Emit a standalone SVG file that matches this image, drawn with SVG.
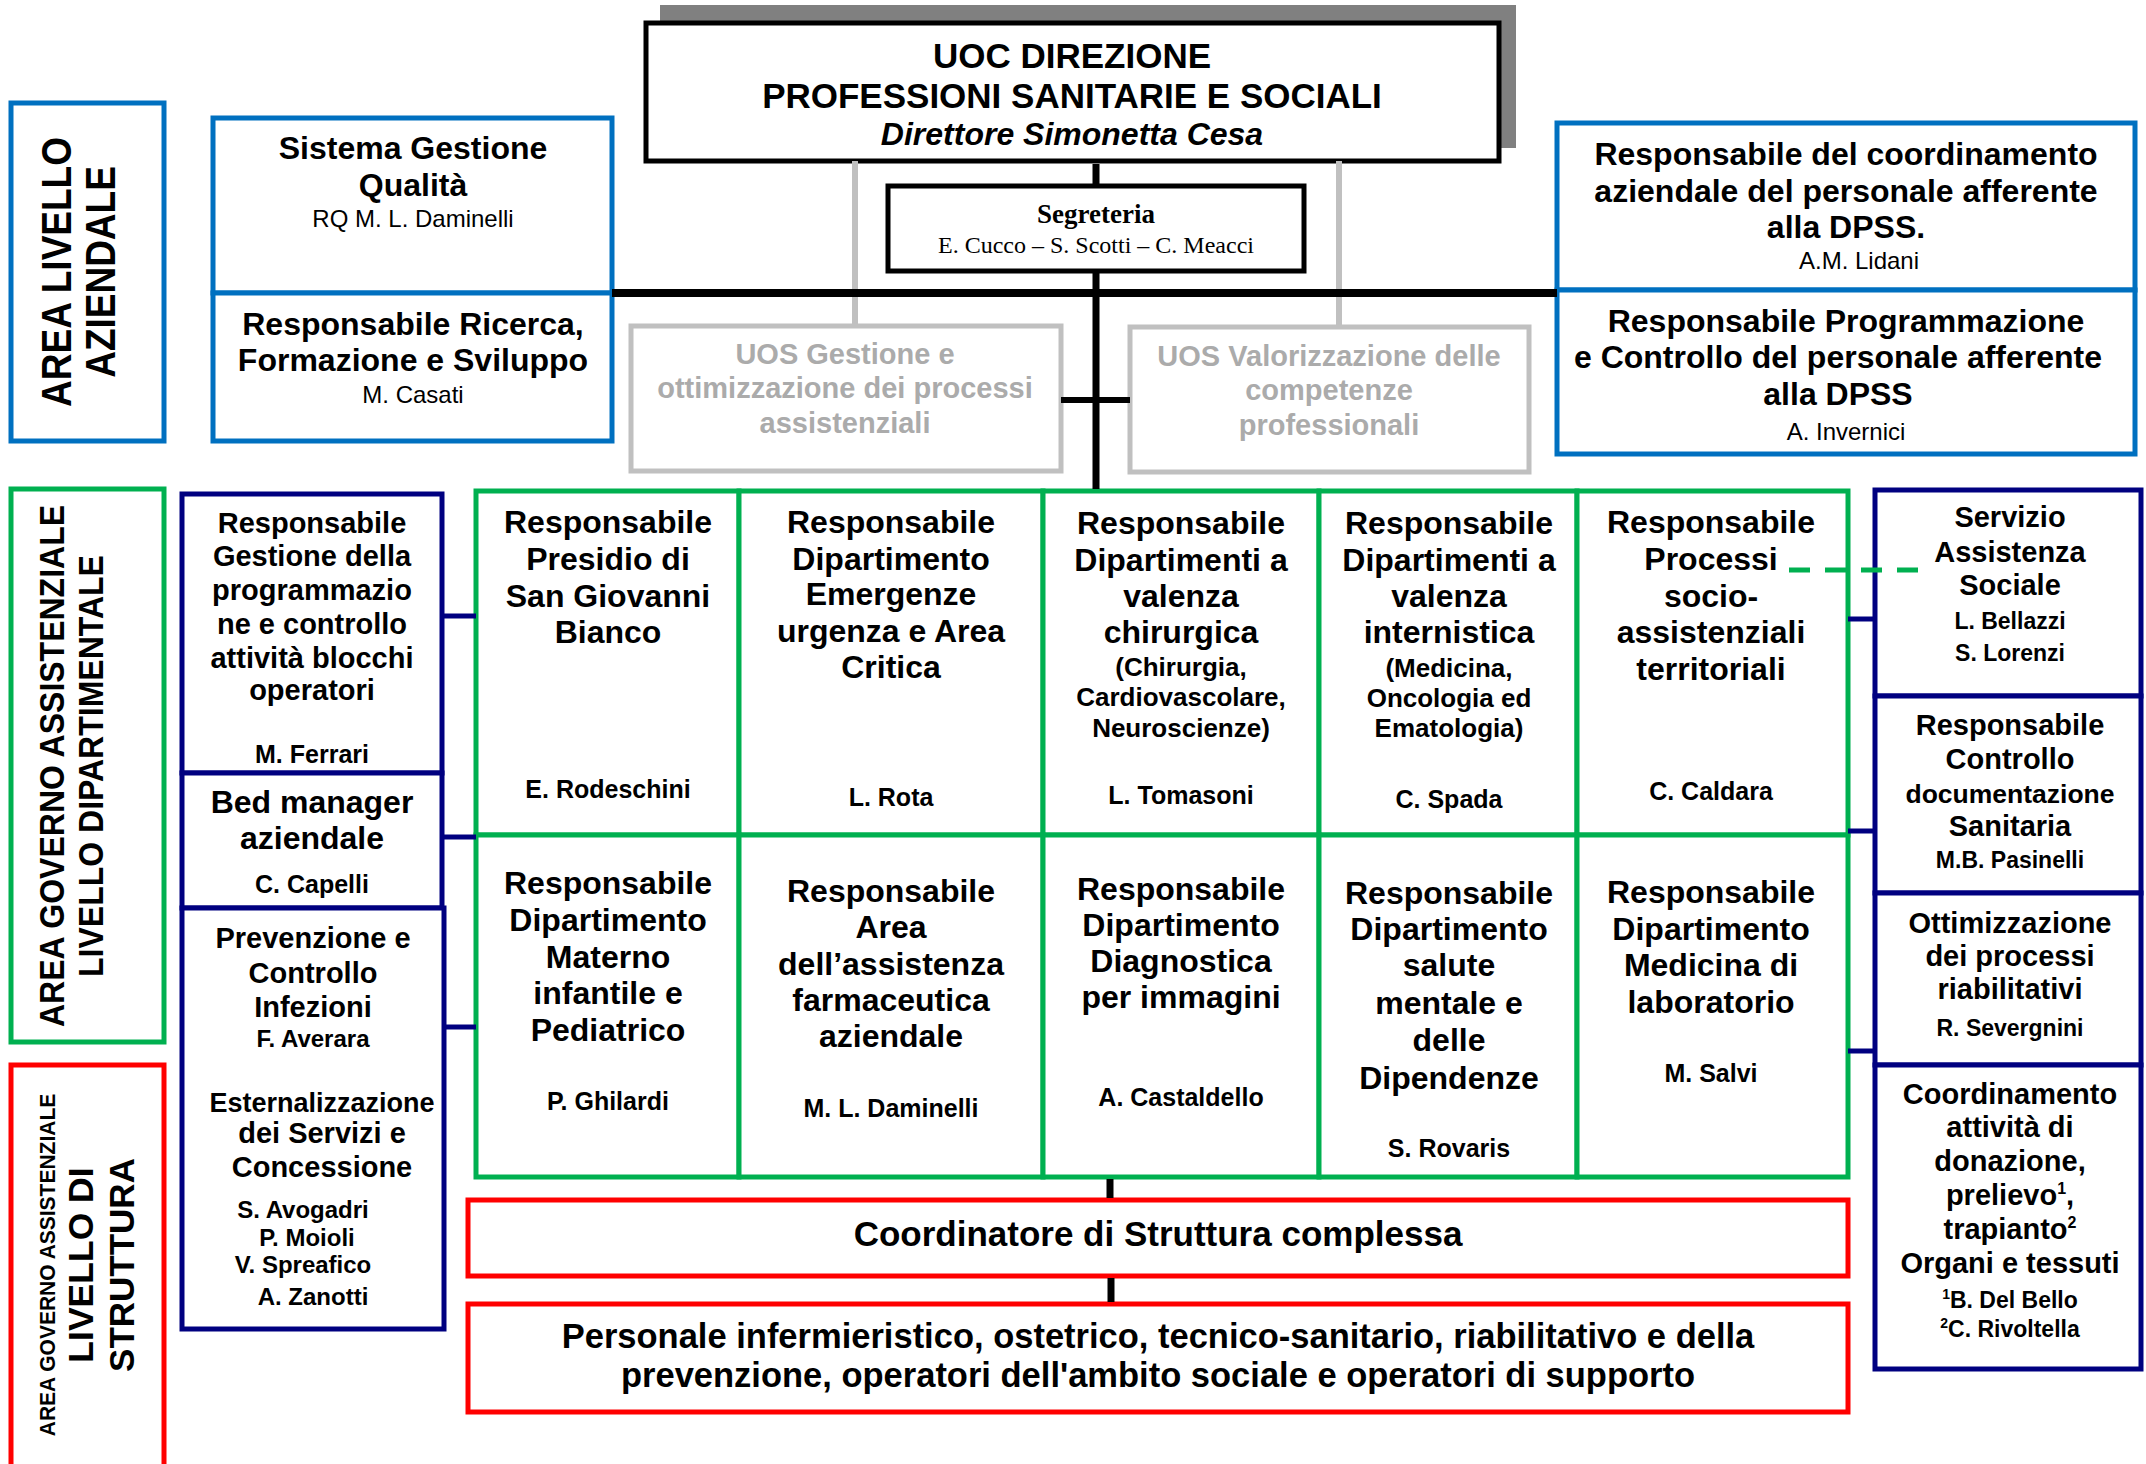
<svg xmlns="http://www.w3.org/2000/svg" width="2146" height="1464" viewBox="0 0 2146 1464">
<style>
text{font-family:"Liberation Sans",Arial,sans-serif;font-weight:bold;text-anchor:middle;fill:#000}
.r{font-weight:normal}
.serif{font-family:"Liberation Serif","Times New Roman",serif}
.g{fill:#ABABAB}
.bx{fill:#fff;stroke-width:5}
.blue{stroke:#0070C0}
.green{stroke:#00B050}
.navy{stroke:#000080}
.red{stroke:#FF0000}
.gry{stroke:#C0C0C0}
.blk{stroke:#000}
.c{fill:none;stroke-linecap:butt}
</style>
<rect width="2146" height="1464" fill="#fff"/>

<g id="area-livello-aziendale">
<rect class="bx blue" x="11" y="103" width="153" height="338"/>
<text font-size="37" transform="translate(71,272) rotate(-90) scale(1,1.17)">AREA LIVELLO</text>
<text font-size="37" transform="translate(115,272) rotate(-90) scale(1,1.17)">AZIENDALE</text>
</g>

<g id="sistema-qualita">
<rect class="bx blue" x="213" y="118" width="399" height="175"/>
<text x="413" y="159" font-size="32">Sistema Gestione</text>
<text x="413" y="196" font-size="32">Qualità</text>
<text class="r" x="413" y="227" font-size="24">RQ M. L. Daminelli</text>
</g>
<g id="ricerca-formazione">
<rect class="bx blue" x="213" y="293" width="399" height="148"/>
<text x="413" y="335" font-size="32">Responsabile Ricerca,</text>
<text x="413" y="371" font-size="32">Formazione e Sviluppo</text>
<text class="r" x="413" y="403" font-size="24">M. Casati</text>
</g>

<g id="uoc-direzione">
<rect x="660" y="5" width="856" height="143" fill="#808080"/>
<rect class="bx blk" x="646" y="23" width="853" height="138" stroke-width="6"/>
<text x="1072" y="68" font-size="35">UOC DIREZIONE</text>
<text x="1072" y="108" font-size="35">PROFESSIONI SANITARIE E SOCIALI</text>
<text x="1072" y="145" font-size="32" font-style="italic">Direttore Simonetta Cesa</text>
</g>

<g id="segreteria">
<rect class="bx blk" x="888" y="186" width="416" height="85"/>
<text class="serif" x="1096" y="223" font-size="27">Segreteria</text>
<text class="serif r" x="1096" y="253" font-size="24">E. Cucco – S. Scotti – C. Meacci</text>
</g>

<g id="uos-gestione">
<rect class="bx gry" x="631" y="326" width="430" height="145"/>
<text class="g" x="845" y="364" font-size="29">UOS Gestione e</text>
<text class="g" x="845" y="398" font-size="29">ottimizzazione dei processi</text>
<text class="g" x="845" y="433" font-size="29">assistenziali</text>
</g>
<g id="uos-valorizzazione">
<rect class="bx gry" x="1130" y="327" width="399" height="145"/>
<text class="g" x="1329" y="366" font-size="29">UOS Valorizzazione delle</text>
<text class="g" x="1329" y="400" font-size="29">competenze</text>
<text class="g" x="1329" y="435" font-size="29">professionali</text>
</g>

<g id="coordinamento-aziendale">
<rect class="bx blue" x="1557" y="123" width="578" height="167"/>
<text x="1846" y="165" font-size="32">Responsabile del coordinamento</text>
<text x="1846" y="202" font-size="32">aziendale del personale afferente</text>
<text x="1846" y="238" font-size="32">alla DPSS.</text>
<text class="r" x="1859" y="269" font-size="24">A.M. Lidani</text>
</g>
<g id="programmazione-controllo">
<rect class="bx blue" x="1557" y="290" width="578" height="164"/>
<text x="1846" y="332" font-size="32">Responsabile Programmazione</text>
<text x="1838" y="368" font-size="32">e Controllo del personale afferente</text>
<text x="1838" y="405" font-size="32">alla DPSS</text>
<text class="r" x="1846" y="440" font-size="24">A. Invernici</text>
</g>

<g id="area-dipartimentale">
<rect class="bx green" x="11" y="489" width="153" height="553"/>
<text font-size="32" transform="translate(64,766) rotate(-90) scale(1,1.12)">AREA GOVERNO ASSISTENZIALE</text>
<text font-size="32" transform="translate(103,766) rotate(-90) scale(1,1.12)">LIVELLO DIPARTIMENTALE</text>
</g>

<g id="area-struttura">
<rect class="bx red" x="11" y="1065" width="153" height="410"/>
<text font-size="21" transform="translate(55,1265) rotate(-90) scale(1,1.08)">AREA GOVERNO ASSISTENZIALE</text>
<text font-size="35.5" transform="translate(93,1265) rotate(-90)">LIVELLO DI</text>
<text font-size="35" transform="translate(134,1265) rotate(-90)">STRUTTURA</text>
</g>

<g id="blocchi-operatori">
<rect class="bx navy" x="182" y="494" width="260" height="279"/>
<text x="312" y="533" font-size="29">Responsabile</text>
<text x="312" y="566" font-size="29">Gestione della</text>
<text x="312" y="600" font-size="29">programmazio</text>
<text x="312" y="634" font-size="29">ne e controllo</text>
<text x="312" y="668" font-size="29">attività blocchi</text>
<text x="312" y="700" font-size="29">operatori</text>
<text x="312" y="763" font-size="25">M. Ferrari</text>
</g>
<g id="bed-manager">
<rect class="bx navy" x="182" y="773" width="260" height="135"/>
<text x="312" y="813" font-size="32">Bed manager</text>
<text x="312" y="849" font-size="32">aziendale</text>
<text x="312" y="893" font-size="25">C. Capelli</text>
</g>
<g id="prevenzione-infezioni">
<rect class="bx navy" x="182" y="908" width="262" height="421"/>
<text x="313" y="948" font-size="29">Prevenzione e</text>
<text x="313" y="983" font-size="29">Controllo</text>
<text x="313" y="1017" font-size="29">Infezioni</text>
<text x="313" y="1047" font-size="24">F. Averara</text>
<text x="322" y="1112" font-size="27">Esternalizzazione</text>
<text x="322" y="1143" font-size="29">dei Servizi e</text>
<text x="322" y="1177" font-size="29">Concessione</text>
<text x="303" y="1218" font-size="24">S. Avogadri</text>
<text x="307" y="1246" font-size="24">P. Moioli</text>
<text x="303" y="1273" font-size="24">V. Spreafico</text>
<text x="313" y="1305" font-size="24">A. Zanotti</text>
</g>

<g id="presidio-sgb">
<rect class="bx green" x="476" y="491" width="263" height="344"/>
<text x="608" y="533" font-size="32">Responsabile</text>
<text x="608" y="570" font-size="32">Presidio di</text>
<text x="608" y="607" font-size="32">San Giovanni</text>
<text x="608" y="643" font-size="32">Bianco</text>
<text x="608" y="798" font-size="25">E. Rodeschini</text>
</g>
<g id="emergenza-urgenza">
<rect class="bx green" x="739" y="491" width="304" height="344"/>
<text x="891" y="533" font-size="32">Responsabile</text>
<text x="891" y="570" font-size="32">Dipartimento</text>
<text x="891" y="605" font-size="32">Emergenze</text>
<text x="891" y="642" font-size="32">urgenza e Area</text>
<text x="891" y="678" font-size="32">Critica</text>
<text x="891" y="806" font-size="25">L. Rota</text>
</g>
<g id="chirurgica">
<rect class="bx green" x="1043" y="491" width="276" height="344"/>
<text x="1181" y="534" font-size="32">Responsabile</text>
<text x="1181" y="571" font-size="32">Dipartimenti a</text>
<text x="1181" y="607" font-size="32">valenza</text>
<text x="1181" y="643" font-size="32">chirurgica</text>
<text x="1181" y="676" font-size="26">(Chirurgia,</text>
<text x="1181" y="706" font-size="26">Cardiovascolare,</text>
<text x="1181" y="737" font-size="26">Neuroscienze)</text>
<text x="1181" y="804" font-size="25">L. Tomasoni</text>
</g>
<g id="internistica">
<rect class="bx green" x="1319" y="491" width="258" height="344"/>
<text x="1449" y="534" font-size="32">Responsabile</text>
<text x="1449" y="571" font-size="32">Dipartimenti a</text>
<text x="1449" y="607" font-size="32">valenza</text>
<text x="1449" y="643" font-size="32">internistica</text>
<text x="1449" y="677" font-size="26">(Medicina,</text>
<text x="1449" y="707" font-size="26">Oncologia ed</text>
<text x="1449" y="737" font-size="26">Ematologia)</text>
<text x="1449" y="808" font-size="25">C. Spada</text>
</g>
<g id="socio-assistenziali">
<rect class="bx green" x="1577" y="491" width="271" height="344"/>
<text x="1711" y="533" font-size="32">Responsabile</text>
<text x="1711" y="570" font-size="32">Processi</text>
<text x="1711" y="607" font-size="32">socio-</text>
<text x="1711" y="643" font-size="32">assistenziali</text>
<text x="1711" y="680" font-size="32">territoriali</text>
<text x="1711" y="800" font-size="25">C. Caldara</text>
</g>
<g id="materno-infantile">
<rect class="bx green" x="476" y="835" width="263" height="342"/>
<text x="608" y="894" font-size="32">Responsabile</text>
<text x="608" y="931" font-size="32">Dipartimento</text>
<text x="608" y="968" font-size="32">Materno</text>
<text x="608" y="1004" font-size="32">infantile e</text>
<text x="608" y="1041" font-size="32">Pediatrico</text>
<text x="608" y="1110" font-size="25">P. Ghilardi</text>
</g>
<g id="farmaceutica">
<rect class="bx green" x="739" y="835" width="304" height="342"/>
<text x="891" y="902" font-size="32">Responsabile</text>
<text x="891" y="938" font-size="32">Area</text>
<text x="891" y="975" font-size="32">dell’assistenza</text>
<text x="891" y="1011" font-size="32">farmaceutica</text>
<text x="891" y="1047" font-size="32">aziendale</text>
<text x="891" y="1117" font-size="25">M. L. Daminelli</text>
</g>
<g id="diagnostica-immagini">
<rect class="bx green" x="1043" y="835" width="276" height="342"/>
<text x="1181" y="900" font-size="32">Responsabile</text>
<text x="1181" y="936" font-size="32">Dipartimento</text>
<text x="1181" y="972" font-size="32">Diagnostica</text>
<text x="1181" y="1008" font-size="32">per immagini</text>
<text x="1181" y="1106" font-size="25">A. Castaldello</text>
</g>
<g id="salute-mentale">
<rect class="bx green" x="1319" y="835" width="258" height="342"/>
<text x="1449" y="904" font-size="32">Responsabile</text>
<text x="1449" y="940" font-size="32">Dipartimento</text>
<text x="1449" y="976" font-size="32">salute</text>
<text x="1449" y="1014" font-size="32">mentale e</text>
<text x="1449" y="1051" font-size="32">delle</text>
<text x="1449" y="1089" font-size="32">Dipendenze</text>
<text x="1449" y="1157" font-size="25">S. Rovaris</text>
</g>
<g id="medicina-laboratorio">
<rect class="bx green" x="1577" y="835" width="271" height="342"/>
<text x="1711" y="903" font-size="32">Responsabile</text>
<text x="1711" y="940" font-size="32">Dipartimento</text>
<text x="1711" y="976" font-size="32">Medicina di</text>
<text x="1711" y="1013" font-size="32">laboratorio</text>
<text x="1711" y="1082" font-size="25">M. Salvi</text>
</g>

<g id="assistenza-sociale">
<rect class="bx navy" x="1875" y="490" width="266" height="206"/>
<text x="2010" y="527" font-size="29">Servizio</text>
<text x="2010" y="562" font-size="29">Assistenza</text>
<text x="2010" y="595" font-size="29">Sociale</text>
<text x="2010" y="629" font-size="23">L. Bellazzi</text>
<text x="2010" y="661" font-size="23">S. Lorenzi</text>
</g>
<g id="documentazione-sanitaria">
<rect class="bx navy" x="1875" y="696" width="266" height="197"/>
<text x="2010" y="735" font-size="29">Responsabile</text>
<text x="2010" y="769" font-size="29">Controllo</text>
<text x="2010" y="803" font-size="26.5">documentazione</text>
<text x="2010" y="836" font-size="29">Sanitaria</text>
<text x="2010" y="868" font-size="23">M.B. Pasinelli</text>
</g>
<g id="processi-riabilitativi">
<rect class="bx navy" x="1875" y="893" width="266" height="172"/>
<text x="2010" y="933" font-size="29">Ottimizzazione</text>
<text x="2010" y="966" font-size="29">dei processi</text>
<text x="2010" y="999" font-size="29">riabilitativi</text>
<text x="2010" y="1036" font-size="23">R. Severgnini</text>
</g>
<g id="donazione-trapianto">
<rect class="bx navy" x="1875" y="1065" width="266" height="304"/>
<text x="2010" y="1104" font-size="29">Coordinamento</text>
<text x="2010" y="1137" font-size="29">attività di</text>
<text x="2010" y="1171" font-size="29">donazione,</text>
<text x="2010" y="1205" font-size="29">prelievo<tspan font-size="16" dy="-11">1</tspan><tspan dy="11">,</tspan></text>
<text x="2010" y="1239" font-size="29">trapianto<tspan font-size="16" dy="-11">2</tspan></text>
<text x="2010" y="1273" font-size="29">Organi e tessuti</text>
<text x="2010" y="1308" font-size="23"><tspan font-size="14" dy="-9">1</tspan><tspan dy="9">B. Del Bello</tspan></text>
<text x="2010" y="1337" font-size="23"><tspan font-size="14" dy="-9">2</tspan><tspan dy="9">C. Rivoltella</tspan></text>
</g>

<g id="coordinatore-struttura">
<rect class="bx red" x="468" y="1200" width="1380" height="76"/>
<text x="1158" y="1246" font-size="35">Coordinatore di Struttura complessa</text>
</g>
<g id="personale">
<rect class="bx red" x="468" y="1304" width="1380" height="108"/>
<text x="1158" y="1348" font-size="34.5">Personale infermieristico, ostetrico, tecnico-sanitario, riabilitativo e della</text>
<text x="1158" y="1387" font-size="34.5">prevenzione, operatori dell'ambito sociale e operatori di supporto</text>
</g>

<g id="connectors" class="c">
<line x1="855" y1="161" x2="855" y2="326" stroke="#C0C0C0" stroke-width="6"/>
<line x1="1339" y1="161" x2="1339" y2="327" stroke="#C0C0C0" stroke-width="6"/>
<line x1="612" y1="293" x2="1557" y2="293" stroke="#000" stroke-width="8"/>
<line x1="1096" y1="164" x2="1096" y2="186" stroke="#000" stroke-width="7"/>
<line x1="1096" y1="271" x2="1096" y2="489" stroke="#000" stroke-width="7"/>
<line x1="1061" y1="400" x2="1130" y2="400" stroke="#000" stroke-width="6"/>
<line x1="1110" y1="1179" x2="1110" y2="1198" stroke="#000" stroke-width="7"/>
<line x1="1111" y1="1278" x2="1111" y2="1302" stroke="#000" stroke-width="7"/>
<line x1="444" y1="616" x2="476" y2="616" stroke="#000080" stroke-width="5"/>
<line x1="444" y1="837" x2="476" y2="837" stroke="#000080" stroke-width="5"/>
<line x1="446" y1="1027" x2="476" y2="1027" stroke="#000080" stroke-width="5"/>
<line x1="1848" y1="619" x2="1875" y2="619" stroke="#000080" stroke-width="5"/>
<line x1="1848" y1="831" x2="1875" y2="831" stroke="#000080" stroke-width="5"/>
<line x1="1848" y1="1051" x2="1875" y2="1051" stroke="#000080" stroke-width="5"/>
<line x1="1789" y1="570" x2="1921" y2="570" stroke="#00B050" stroke-width="5" stroke-dasharray="21 15"/>
</g>
</svg>
